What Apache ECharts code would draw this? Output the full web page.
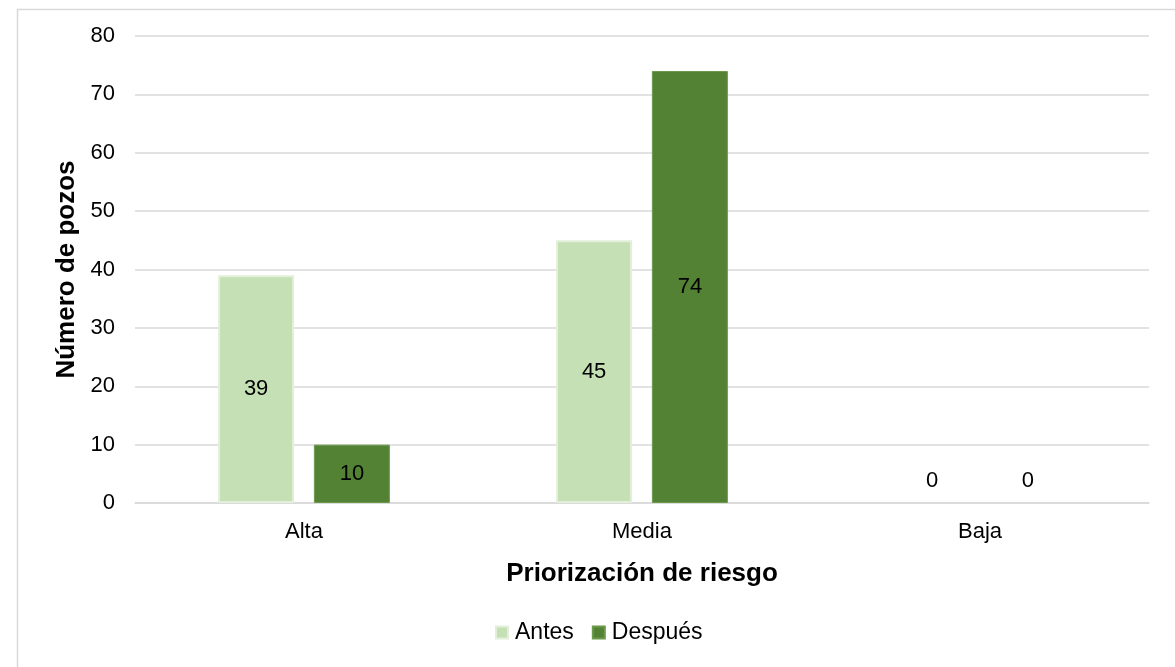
<!DOCTYPE html>
<html><head><meta charset="utf-8">
<script src="https://cdn.jsdelivr.net/npm/echarts@6/dist/echarts.min.js"></script>
<style>html,body{margin:0;padding:0;background:#fff}#c{width:1175px;height:667px}</style>
</head><body><div id="c"></div>
<script>
const categories = ['Alta', 'Media', 'Baja'];
const antes = [39, 45, 0];
const despues = [10, 74, 0];
const yTicks = [0, 10, 20, 30, 40, 50, 60, 70, 80];

const font = 'Liberation Sans, Arial, sans-serif';
function toData(arr) {
  return arr.map(v => v === 0
    ? { value: v, label: { position: 'top', distance: 11 }, itemStyle: { borderWidth: 0 } }
    : v);
}
const chart = echarts.init(document.getElementById('c'));
chart.setOption({
  animation: false,
  backgroundColor: '#fff',
  graphic: [{
    type: 'rect', left: 15, top: 7, silent: true,
    shape: { width: 1200, height: 700 },
    style: { fill: 'none', stroke: '#d9d9d9', lineWidth: 1.5 }
  }],
  grid: { left: 135, right: 26, top: 36, bottom: 164 },
  legend: {
    bottom: 18, left: 490, itemWidth: 12, itemHeight: 12, itemGap: 18,
    icon: 'rect',
    textStyle: { fontFamily: font, fontSize: 23, color: '#000', padding: [0, 0, 0, 2] },
    data: ['Antes', 'Después']
  },
  xAxis: {
    type: 'category', data: categories,
    name: 'Priorización de riesgo', nameLocation: 'middle', nameGap: 58,
    nameTextStyle: { fontFamily: font, fontSize: 26, fontWeight: 'bold', color: '#000' },
    axisLine: { lineStyle: { color: '#d9d9d9', width: 1.5 } },
    axisTick: { show: false },
    axisLabel: { fontFamily: font, fontSize: 22, color: '#000', margin: 18 }
  },
  yAxis: {
    type: 'value', min: yTicks[0], max: yTicks[yTicks.length - 1], interval: 10,
    name: 'Número de pozos', nameLocation: 'middle', nameGap: 55, nameRotate: 90,
    nameTextStyle: { fontFamily: font, fontSize: 26, fontWeight: 'bold', color: '#000' },
    axisLine: { show: false }, axisTick: { show: false },
    axisLabel: { fontFamily: font, fontSize: 22, color: '#000', margin: 20 },
    splitLine: { lineStyle: { color: '#d9d9d9', width: 1.5 } }
  },
  series: [
    {
      name: 'Antes', type: 'bar', data: toData(antes), barWidth: 76, barGap: '26%',
      itemStyle: { color: '#c5e0b4', borderColor: '#e2f0d9', borderWidth: 2 },
      label: { show: true, position: 'inside', fontFamily: font, fontSize: 22, color: '#000' }
    },
    {
      name: 'Después', type: 'bar', data: toData(despues), barWidth: 76,
      itemStyle: { color: '#548235', borderColor: '#6a9a4a', borderWidth: 1 },
      label: { show: true, position: 'inside', fontFamily: font, fontSize: 22, color: '#000' }
    }
  ]
});
</script></body></html>
